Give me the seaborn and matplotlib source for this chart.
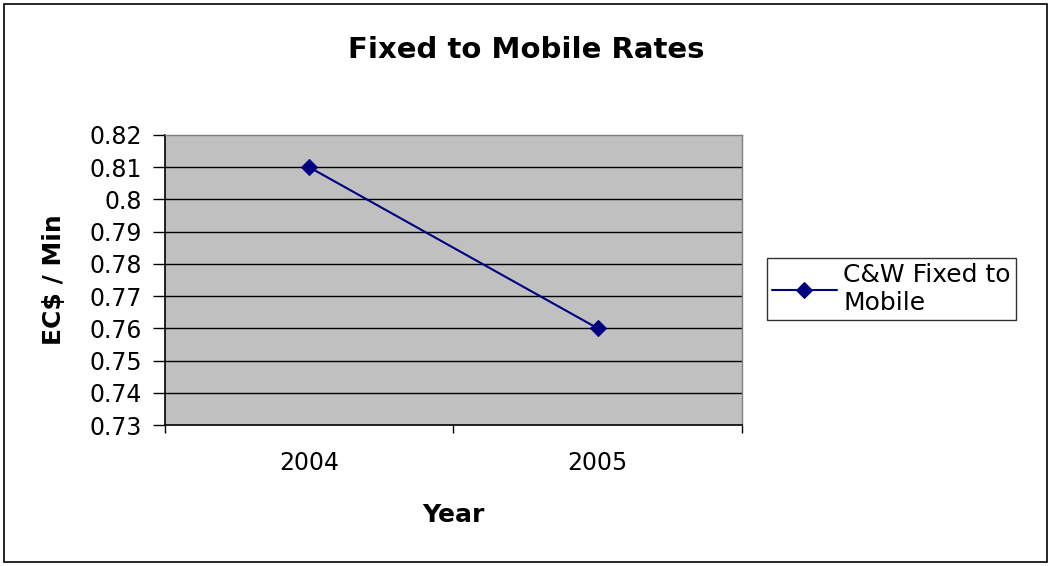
import pandas as pd
import seaborn as sns
import matplotlib.pyplot as plt
from matplotlib.patches import Rectangle
from matplotlib.ticker import FixedLocator, NullFormatter

years = ['2004', '2005']
rates = [0.81, 0.76]
series_name = 'C&W Fixed to\nMobile'
y_ticks = [0.73, 0.74, 0.75, 0.76, 0.77, 0.78, 0.79, 0.80, 0.81, 0.82]
y_labels = ['0.73', '0.74', '0.75', '0.76', '0.77', '0.78', '0.79', '0.8', '0.81', '0.82']

sns.set_style('white')
plt.rcParams['font.family'] = ['DejaVu Sans']
plt.rcParams['text.color'] = 'black'
plt.rcParams['axes.labelcolor'] = 'black'
plt.rcParams['xtick.color'] = 'black'
plt.rcParams['ytick.color'] = 'black'

df = pd.DataFrame({'Year': years, 'Rate': rates, 'Series': series_name})

fig = plt.figure(figsize=(10.52, 5.66), dpi=100)
ax = fig.add_axes([0.1568, 0.2491, 0.5485, 0.5124])
ax.set_facecolor('#c0c0c0')

sns.lineplot(data=df, x='Year', y='Rate', hue='Series', palette=['#000080'],
             marker='D', markersize=8, markeredgecolor='#000080', linewidth=1.5, ax=ax)

ax.set_xlim(-0.5, 1.5)
ax.set_ylim(0.73, 0.82)
ax.set_yticks(y_ticks)
ax.set_yticklabels(y_labels, fontsize=17)
for y in y_ticks[1:-1]:
    ax.axhline(y, color='black', linewidth=1, zorder=0.5)

ax.set_xticks([0, 1])
ax.set_xticklabels(years, fontsize=17)
ax.tick_params(axis='x', which='major', length=0, pad=19)
ax.xaxis.set_minor_locator(FixedLocator([-0.5, 0.5, 1.5]))
ax.xaxis.set_minor_formatter(NullFormatter())
ax.tick_params(axis='x', which='minor', direction='out', length=6, width=1, color='black', bottom=True)
ax.tick_params(axis='y', direction='out', length=8.5, width=1, color='black', left=True, pad=8)

for side in ['left', 'bottom']:
    ax.spines[side].set_color('black')
    ax.spines[side].set_linewidth(1.2)
for side in ['top', 'right']:
    ax.spines[side].set_color('#808080')
    ax.spines[side].set_linewidth(1)

ax.set_xlabel('Year', fontsize=18, fontweight='bold', labelpad=20)
ax.set_ylabel('EC$ / Min', fontsize=18, fontweight='bold', labelpad=17)
fig.text(0.5, 0.912, 'Fixed to Mobile Rates', fontsize=21, fontweight='bold',
         ha='center', va='center')

leg = ax.legend(loc='center left', bbox_to_anchor=(1.043, 0.469), fontsize=18, frameon=True,
                fancybox=False, edgecolor='black', handlelength=2.6, borderpad=0.2,
                handletextpad=0.25, borderaxespad=0, labelspacing=0.1)
leg.get_frame().set_linewidth(1)

fig.patches.append(Rectangle((0.004, 0.007), 0.991, 0.986, transform=fig.transFigure,
                             fill=False, edgecolor='black', linewidth=1.2))

fig.savefig('out.png', dpi=100)
